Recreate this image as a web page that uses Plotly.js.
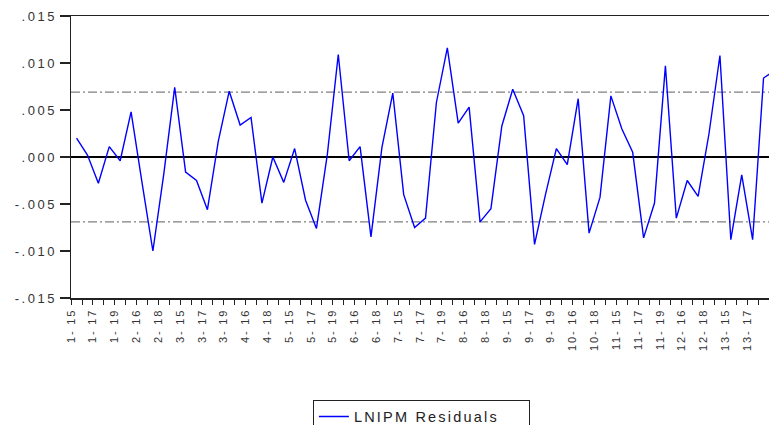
<!DOCTYPE html>
<html><head><meta charset="utf-8">
<script src="https://cdn.plot.ly/plotly-3.0.1.min.js"></script>
<style>
html,body{margin:0;padding:0;background:#fff;overflow:hidden}
#chart{width:769px;height:425px}
.ytick text{letter-spacing:2.5px}
.xtick text{letter-spacing:1.8px}
.legendtext{letter-spacing:2.2px}
</style></head><body><div id="chart"></div>
<script>
const categories = [
 "1- 15","1- 16","1- 17","1- 18","1- 19",
 "2- 15","2- 16","2- 17","2- 18","2- 19",
 "3- 15","3- 16","3- 17","3- 18","3- 19",
 "4- 15","4- 16","4- 17","4- 18","4- 19",
 "5- 15","5- 16","5- 17","5- 18","5- 19",
 "6- 15","6- 16","6- 17","6- 18","6- 19",
 "7- 15","7- 16","7- 17","7- 18","7- 19",
 "8- 15","8- 16","8- 17","8- 18","8- 19",
 "9- 15","9- 16","9- 17","9- 18","9- 19",
 "10- 15","10- 16","10- 17","10- 18","10- 19",
 "11- 15","11- 16","11- 17","11- 18","11- 19",
 "12- 15","12- 16","12- 17","12- 18","12- 19",
 "13- 15","13- 16","13- 17","13- 18","13- 19"
];
const residuals = [
 0.0020, 0.0002, -0.0028, 0.0011, -0.0004,
 0.0048, -0.0027, -0.0100, -0.0018, 0.0074,
 -0.0016, -0.0025, -0.0056, 0.0017, 0.0070,
 0.0034, 0.0042, -0.0049, 0.0000, -0.0027,
 0.0009, -0.0046, -0.0076, 0.0003, 0.0109,
 -0.0004, 0.0011, -0.0085, 0.0010, 0.0068,
 -0.0040, -0.0075, -0.0065, 0.0058, 0.0116,
 0.0036, 0.0053, -0.0069, -0.0055, 0.0033,
 0.0072, 0.0044, -0.0093, -0.0040, 0.0009,
 -0.0008, 0.0062, -0.0081, -0.0043, 0.0065,
 0.0030, 0.0005, -0.0086, -0.0049, 0.0097,
 -0.0065, -0.0025, -0.0042, 0.0025, 0.0108,
 -0.0088, -0.0019, -0.0088, 0.0084, 0.0092
];
const bandValues = [0.0069, -0.0069];
const yTickVals = [-0.015, -0.010, -0.005, 0.000, 0.005, 0.010, 0.015];
const yTickText = ["-.015", "-.010", "-.005", ".000", ".005", ".010", ".015"];
const seriesName = "LNIPM Residuals";

const xIdx = categories.map((c, i) => i);
const xTickVals = categories.map((c, i) => i - 0.5);
const xTickText = categories.map((c, i) => (i % 2 === 0 ? c : ""));

const trace = {
  x: xIdx, y: residuals, type: "scatter", mode: "lines",
  name: seriesName,
  line: {color: "#0000ff", width: 1.4},
  hoverinfo: "skip"
};

const shapes = bandValues.map(v => ({
  type: "line", xref: "paper", yref: "y", x0: 0, x1: 1, y0: v, y1: v,
  line: {color: "#808080", width: 1.2, dash: "9px,3px,2px,3px"},
  layer: "below"
}));

const layout = {
  width: 769, height: 425,
  margin: {l: 71, r: 0, t: 16, b: 127, autoexpand: false},
  paper_bgcolor: "#fff", plot_bgcolor: "#fff",
  showlegend: true,
  font: {family: "Liberation Sans, Arial, sans-serif", color: "#222"},
  xaxis: {
    range: [-0.51, 63.5], showgrid: false, zeroline: false,
    showline: true, linecolor: "#222", linewidth: 1.5, mirror: true,
    tickmode: "array", tickvals: xTickVals, ticktext: xTickText,
    ticks: "outside", ticklen: 5, tickwidth: 1, tickcolor: "#222",
    tickangle: -90, tickfont: {size: 11, color: "#333"}
  },
  yaxis: {
    range: [-0.015, 0.015], showgrid: false,
    zeroline: true, zerolinecolor: "#000", zerolinewidth: 1.3,
    showline: true, linecolor: "#222", linewidth: 1.5, mirror: false,
    tickmode: "array", tickvals: yTickVals, ticktext: yTickText,
    ticks: "outside", ticklen: 10, tickwidth: 1.3, tickcolor: "#222",
    tickfont: {size: 13, color: "#333"}
  },
  shapes: shapes,
  legend: {
    orientation: "h", x: 0.502, xanchor: "center", y: -0.36, yanchor: "top",
    bordercolor: "#222", borderwidth: 1, bgcolor: "#fff",
    entrywidth: 170, entrywidthmode: "pixels",
    font: {size: 14.5, color: "#222"}
  }
};

Plotly.newPlot("chart", [trace], layout, {displayModeBar: false, staticPlot: true});
</script></body></html>
